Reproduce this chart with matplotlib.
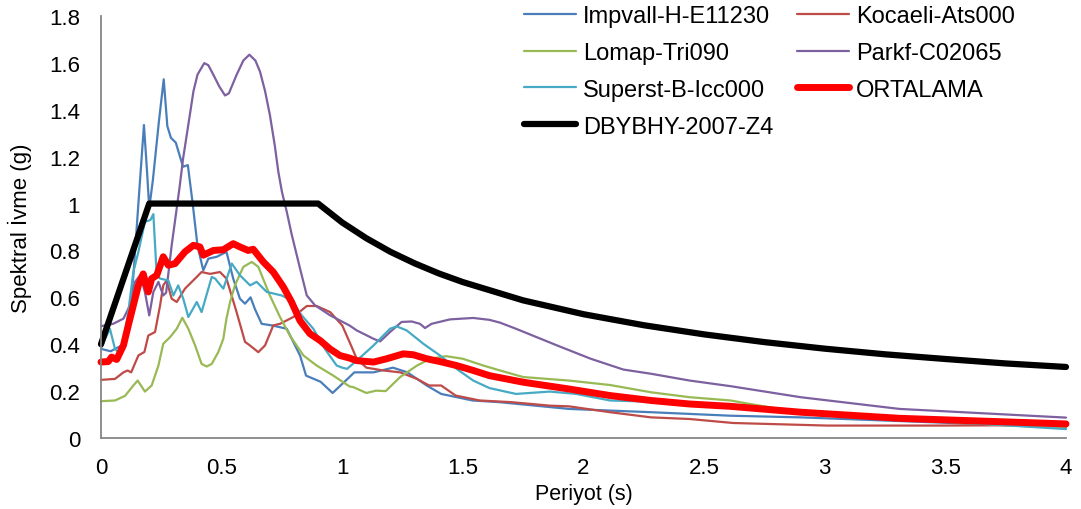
import matplotlib
matplotlib.use("Agg")
import matplotlib.pyplot as plt

plt.rcParams["font.family"] = ["Liberation Sans", "DejaVu Sans"]

# Impvall-H-E11230
impvall_t = [0, 0.04, 0.086, 0.11, 0.134, 0.155, 0.178, 0.19, 0.2, 0.215, 0.24, 0.26, 0.275, 0.29,
             0.31, 0.34, 0.36, 0.38, 0.40, 0.424, 0.445, 0.48, 0.52, 0.548, 0.576, 0.597, 0.62,
             0.638, 0.666, 0.71, 0.77, 0.825, 0.85, 0.91, 0.96, 1.03, 1.05, 1.13, 1.21, 1.27,
             1.35, 1.41, 1.54, 1.65, 1.94, 2.28, 2.61, 2.90, 3.5, 4.0]
impvall_g = [0.38, 0.37, 0.395, 0.45, 0.69, 1.0, 1.335, 1.15, 0.98, 1.1, 1.35, 1.53, 1.33, 1.28,
             1.26, 1.157, 1.164, 1.0, 0.82, 0.715, 0.765, 0.773, 0.794, 0.68, 0.594, 0.573, 0.60,
             0.55, 0.487, 0.48, 0.466, 0.352, 0.266, 0.24, 0.192, 0.26, 0.28, 0.28, 0.30, 0.28,
             0.224, 0.188, 0.16, 0.153, 0.124, 0.11, 0.095, 0.088, 0.065, 0.046]

# Kocaeli-Ats000
kocaeli_t = [0, 0.058, 0.093, 0.11, 0.125, 0.155, 0.18, 0.196, 0.224, 0.245, 0.258, 0.272, 0.293,
             0.314, 0.348, 0.39, 0.417, 0.452, 0.493, 0.52, 0.562, 0.597, 0.617, 0.652, 0.68,
             0.714, 0.742, 0.797, 0.853, 0.894, 0.95, 1.0, 1.03, 1.06, 1.10, 1.17, 1.24, 1.31,
             1.36, 1.41, 1.47, 1.57, 1.70, 1.86, 1.94, 2.11, 2.28, 2.44, 2.62, 3.01, 3.45, 4.0]
kocaeli_g = [0.248, 0.252, 0.28, 0.288, 0.28, 0.352, 0.367, 0.437, 0.452, 0.566, 0.651, 0.672, 0.594,
             0.58, 0.637, 0.68, 0.708, 0.70, 0.708, 0.68, 0.537, 0.41, 0.395, 0.366, 0.395,
             0.48, 0.487, 0.516, 0.563, 0.563, 0.537, 0.48, 0.41, 0.338, 0.30, 0.288, 0.28, 0.252,
             0.224, 0.224, 0.181, 0.16, 0.153, 0.138, 0.135, 0.11, 0.088, 0.081, 0.064, 0.053, 0.053, 0.055]

# Lomap-Tri090
lomap_t = [0, 0.058, 0.1, 0.134, 0.152, 0.182, 0.21, 0.238, 0.258, 0.286, 0.314, 0.337, 0.362, 0.39,
           0.417, 0.438, 0.459, 0.486, 0.507, 0.52, 0.535, 0.555, 0.59, 0.625, 0.652, 0.70, 0.742,
           0.783, 0.839, 0.894, 0.963, 1.03, 1.046, 1.10, 1.14, 1.18, 1.24, 1.31, 1.364, 1.43, 1.50,
           1.585, 1.654, 1.75, 1.94, 2.11, 2.28, 2.44, 2.61, 2.69, 2.90, 3.17, 3.59, 4.0]
lomap_g = [0.157, 0.16, 0.18, 0.224, 0.245, 0.198, 0.224, 0.309, 0.402, 0.43, 0.466, 0.513, 0.466, 0.395,
           0.316, 0.305, 0.316, 0.366, 0.423, 0.509, 0.58, 0.651, 0.73, 0.751, 0.73, 0.608, 0.516,
           0.437, 0.352, 0.309, 0.266, 0.22, 0.217, 0.192, 0.202, 0.2, 0.26, 0.309, 0.338, 0.349, 0.338,
           0.309, 0.288, 0.26, 0.245, 0.226, 0.195, 0.174, 0.16, 0.145, 0.11, 0.088, 0.064, 0.041]

# Parkf-C02065
parkf_t = [0, 0.05, 0.093, 0.12, 0.141, 0.162, 0.182, 0.2, 0.217, 0.238, 0.258, 0.27, 0.293, 0.31,
           0.327, 0.34, 0.355, 0.37, 0.383, 0.40, 0.428, 0.445, 0.466, 0.49, 0.514, 0.53, 0.562,
           0.59, 0.615, 0.64, 0.659, 0.68, 0.70, 0.72, 0.735, 0.75, 0.77, 0.79, 0.825,
           0.853, 0.887, 0.95, 1.03, 1.06, 1.13, 1.157, 1.198, 1.246, 1.288, 1.322, 1.343, 1.37,
           1.447, 1.543, 1.61, 1.654, 1.72, 1.89, 2.03, 2.165, 2.28, 2.44, 2.61, 2.90, 3.31, 4.0]
parkf_g = [0.477, 0.487, 0.509, 0.566, 0.666, 0.694, 0.623, 0.523, 0.623, 0.666, 0.608, 0.62, 0.822, 0.95,
           1.08, 1.19, 1.29, 1.39, 1.478, 1.55, 1.599, 1.59, 1.549, 1.50, 1.461, 1.47, 1.549,
           1.61, 1.635, 1.61, 1.563, 1.48, 1.378, 1.25, 1.136, 1.05, 0.965, 0.87, 0.723,
           0.608, 0.566, 0.523, 0.48, 0.459, 0.423, 0.412, 0.452, 0.495, 0.497, 0.487, 0.469, 0.487,
           0.506, 0.512, 0.504, 0.492, 0.466, 0.395, 0.338, 0.292, 0.274, 0.245, 0.221, 0.174, 0.124, 0.087]

# Superst-B-Icc000
superst_t = [0, 0.017, 0.037, 0.058, 0.072, 0.093, 0.113, 0.134, 0.155, 0.182, 0.205, 0.217, 0.231,
             0.245, 0.279, 0.30, 0.32, 0.341, 0.362, 0.397, 0.417, 0.459, 0.473, 0.507, 0.542, 0.576,
             0.618, 0.645, 0.687, 0.749, 0.79, 0.832, 0.88, 0.928, 0.977, 1.0, 1.02, 1.06, 1.13,
             1.198, 1.226, 1.267, 1.336, 1.405, 1.474, 1.543, 1.61, 1.72, 1.86, 1.97, 2.11, 2.28,
             2.44, 2.90, 3.5, 4.0]
superst_g = [0.38, 0.423, 0.466, 0.38, 0.366, 0.409, 0.537, 0.708, 0.794, 0.922, 0.93, 0.955, 0.694,
             0.68, 0.672, 0.608, 0.651, 0.594, 0.516, 0.58, 0.537, 0.687, 0.68, 0.637, 0.744, 0.694,
             0.651, 0.666, 0.623, 0.608, 0.587, 0.523, 0.466, 0.38, 0.309, 0.30, 0.295, 0.33, 0.395,
             0.466, 0.476, 0.459, 0.402, 0.352, 0.295, 0.245, 0.213, 0.188, 0.198, 0.188, 0.16, 0.155,
             0.145, 0.11, 0.07, 0.038]

# ORTALAMA (mean)
ortalama_t = [0, 0.03, 0.044, 0.065, 0.093, 0.113, 0.134, 0.155, 0.175, 0.185, 0.196, 0.21, 0.231,
              0.258, 0.279, 0.307, 0.348, 0.383, 0.41, 0.424, 0.466, 0.507, 0.548, 0.576, 0.61, 0.631,
              0.673, 0.714, 0.756, 0.79, 0.825, 0.866, 0.908, 0.949, 0.99, 1.03, 1.06, 1.13, 1.184,
              1.253, 1.295, 1.35, 1.405, 1.474, 1.543, 1.61, 1.75, 1.94, 2.11, 2.28, 2.44, 2.61, 2.90,
              3.31, 4.0]
ortalama_g = [0.324, 0.326, 0.345, 0.335, 0.395, 0.48, 0.566, 0.651, 0.70, 0.66, 0.623, 0.68, 0.694,
              0.773, 0.737, 0.744, 0.794, 0.822, 0.815, 0.78, 0.80, 0.803, 0.829, 0.815, 0.80, 0.805,
              0.751, 0.708, 0.644, 0.58, 0.50, 0.445, 0.416, 0.38, 0.352, 0.341, 0.33, 0.324, 0.338,
              0.359, 0.355, 0.338, 0.326, 0.309, 0.288, 0.266, 0.238, 0.209, 0.181, 0.16, 0.145, 0.135,
              0.11, 0.084, 0.06]

# DBYBHY-2007-Z4 design spectrum
dbybhy_t = [0, 0.2, 0.9, 1.0, 1.1, 1.2, 1.3, 1.4, 1.5, 1.75, 2.0, 2.25, 2.5, 2.75, 3.0, 3.25, 3.5, 3.75, 4.0]
dbybhy_g = [0.4, 1.0, 1.0, 0.919, 0.852, 0.794, 0.745, 0.702, 0.665, 0.587, 0.528, 0.481, 0.442, 0.409,
            0.381, 0.357, 0.337, 0.318, 0.303]

x_ticks = [0, 0.5, 1, 1.5, 2, 2.5, 3, 3.5, 4]
x_tick_labels = ["0", "0.5", "1", "1.5", "2", "2.5", "3", "3.5", "4"]
y_ticks = [0, 0.2, 0.4, 0.6, 0.8, 1.0, 1.2, 1.4, 1.6, 1.8]
y_tick_labels = ["0", "0.2", "0.4", "0.6", "0.8", "1", "1.2", "1.4", "1.6", "1.8"]

fig = plt.figure(figsize=(10.81, 5.10), dpi=100)
ax = fig.add_axes([101 / 1081, 1 - 439 / 510, 965 / 1081, 422 / 510])

thin = dict(lw=1.6, solid_joinstyle="round", solid_capstyle="round", clip_on=False)
l_imp, = ax.plot(impvall_t, impvall_g, color="#4A7EBB", label="Impvall-H-E11230", **thin)
l_koc, = ax.plot(kocaeli_t, kocaeli_g, color="#BE4B48", label="Kocaeli-Ats000", **thin)
l_lom, = ax.plot(lomap_t, lomap_g, color="#98B954", label="Lomap-Tri090", **thin)
l_par, = ax.plot(parkf_t, parkf_g, color="#7D60A0", label="Parkf-C02065", **thin)
l_sup, = ax.plot(superst_t, superst_g, color="#46AAC5", label="Superst-B-Icc000", **thin)
l_ort, = ax.plot(ortalama_t, ortalama_g, color="#FF0000", lw=5, solid_joinstyle="round",
                 solid_capstyle="round", clip_on=False, label="ORTALAMA")
l_dby, = ax.plot(dbybhy_t, dbybhy_g, color="#000000", lw=4.5, solid_joinstyle="round",
                 solid_capstyle="round", clip_on=False, label="DBYBHY-2007-Z4")

ax.set_xlim(0, 4)
ax.set_ylim(0, 1.8)
ax.set_xticks(x_ticks)
ax.set_xticklabels(x_tick_labels)
ax.set_yticks(y_ticks)
ax.set_yticklabels(y_tick_labels)
ax.tick_params(length=0, labelsize=16, colors="#000000")
ax.tick_params(axis="y", pad=15)
ax.tick_params(axis="x", pad=14)
for side in ["top", "right"]:
    ax.spines[side].set_visible(False)
for side in ["left", "bottom"]:
    ax.spines[side].set_color("#868686")
    ax.spines[side].set_linewidth(1.3)

ax.set_xlabel("Periyot (s)", fontsize=15.5, labelpad=3)
ax.set_ylabel("Spektral İvme (g)", fontsize=16, labelpad=12)

# column-wise order so ncol=2 matches the row layout of the original
handles = [l_imp, l_lom, l_sup, l_dby, l_koc, l_par, l_ort]
fig.legend(handles=handles, labels=[h.get_label() for h in handles], ncol=2,
           loc="upper left", bbox_to_anchor=(524 / 1081, 1 - 6 / 510),
           frameon=False, fontsize=17, handlelength=2.2, handletextpad=0.3,
           columnspacing=1.0, labelspacing=0.63, borderpad=0, borderaxespad=0)

fig.savefig("out.png", dpi=100)
